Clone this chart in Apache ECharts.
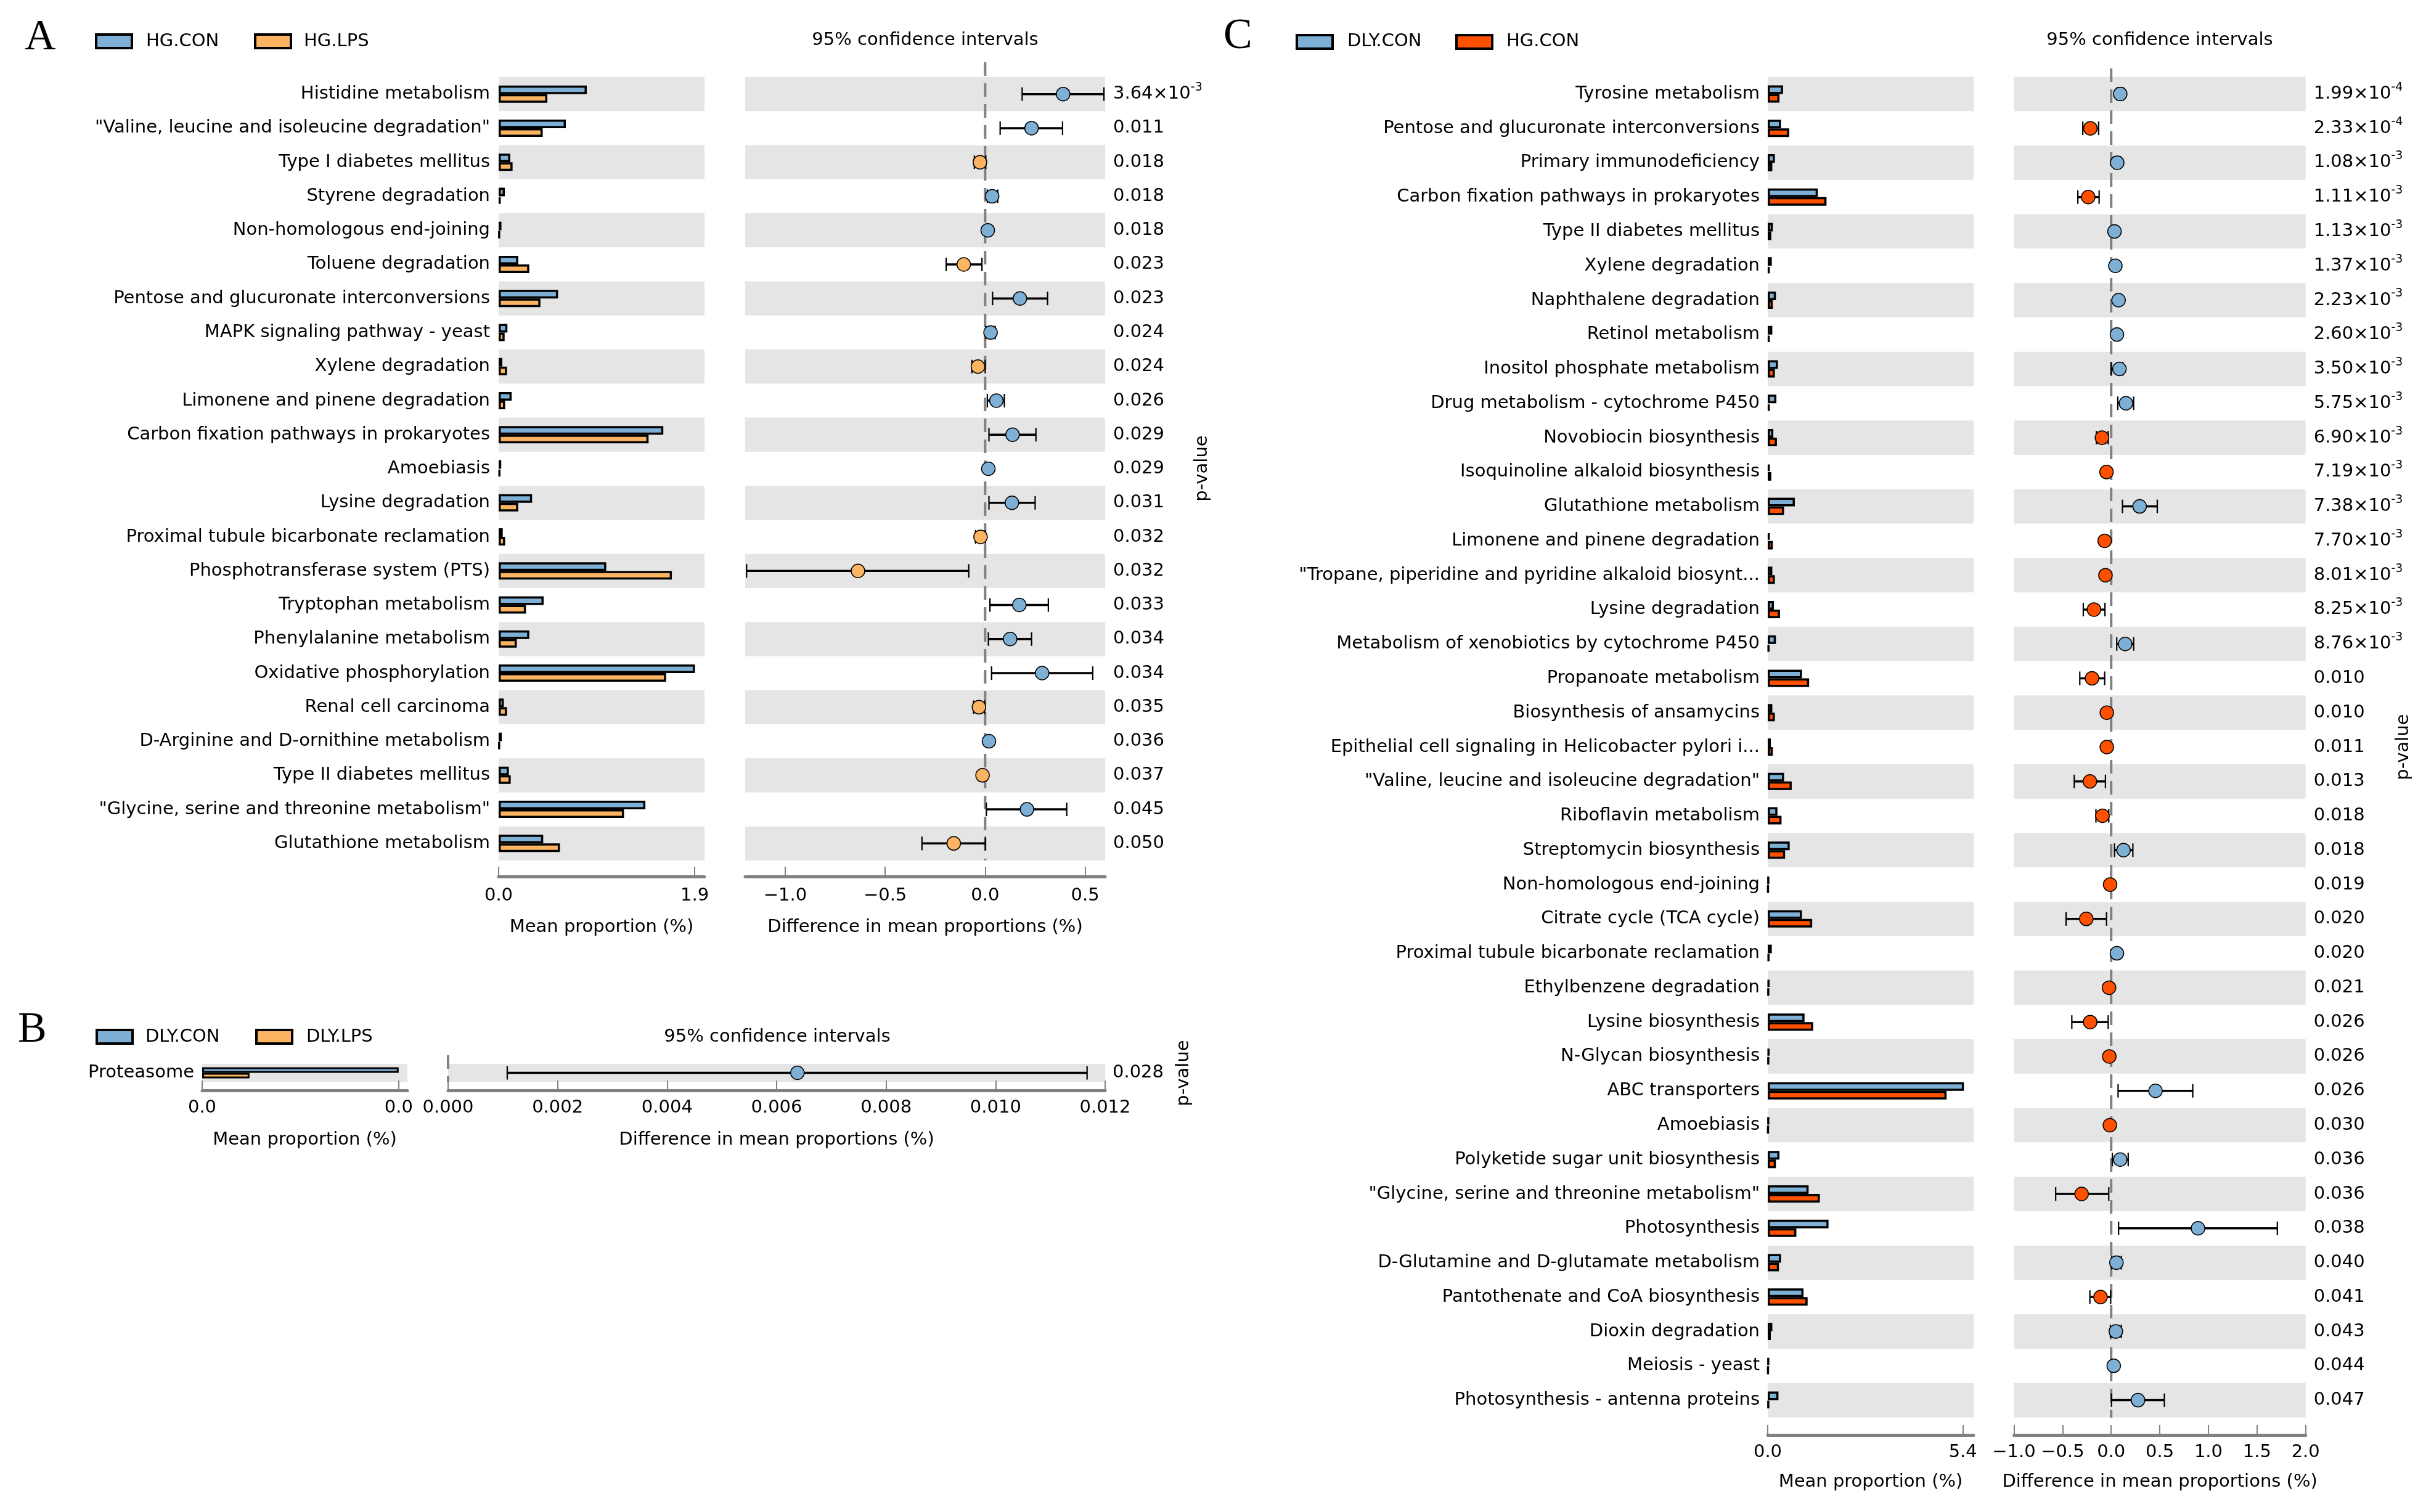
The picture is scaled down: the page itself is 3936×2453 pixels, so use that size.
<!DOCTYPE html>
<html>
<head>
<meta charset="utf-8">
<script src="https://cdn.jsdelivr.net/npm/echarts@6/dist/echarts.min.js"></script>
<style>html,body{margin:0;padding:0;background:#fff}#chart{width:3936px;height:2453px}</style>
</head>
<body>
<div id="chart"></div>
<script>
// ---------------- DATA ----------------
// Panel A: HG.CON vs HG.LPS
const aCategories = ["Histidine metabolism", "\"Valine, leucine and isoleucine degradation\"", "Type I diabetes mellitus", "Styrene degradation", "Non-homologous end-joining", "Toluene degradation", "Pentose and glucuronate interconversions", "MAPK signaling pathway - yeast", "Xylene degradation", "Limonene and pinene degradation", "Carbon fixation pathways in prokaryotes", "Amoebiasis", "Lysine degradation", "Proximal tubule bicarbonate reclamation", "Phosphotransferase system (PTS)", "Tryptophan metabolism", "Phenylalanine metabolism", "Oxidative phosphorylation", "Renal cell carcinoma", "D-Arginine and D-ornithine metabolism", "Type II diabetes mellitus", "\"Glycine, serine and threonine metabolism\"", "Glutathione metabolism"];
const aCon  = [0.854, 0.651, 0.113, 0.060, 0.027, 0.190, 0.576, 0.085, 0.036, 0.126, 1.596, 0.025, 0.324, 0.040, 1.043, 0.436, 0.297, 1.902, 0.050, 0.030, 0.099, 1.422, 0.432];
const aLps  = [0.472, 0.427, 0.135, 0.020, 0.010, 0.297, 0.405, 0.058, 0.081, 0.063, 1.453, 0.015, 0.190, 0.063, 1.679, 0.265, 0.176, 1.623, 0.081, 0.010, 0.117, 1.215, 0.594];
const aDiff = [0.390, 0.232, -0.026, 0.035, 0.013, -0.107, 0.174, 0.027, -0.036, 0.056, 0.137, 0.016, 0.134, -0.023, -0.636, 0.171, 0.125, 0.285, -0.031, 0.019, -0.013, 0.209, -0.157];
const aLow  = [0.185, 0.075, -0.054, 0.011, 0.008, -0.195, 0.037, 0.003, -0.066, 0.011, 0.019, 0.010, 0.019, -0.048, -1.193, 0.024, 0.016, 0.032, -0.058, 0.012, -0.020, 0.006, -0.316];
const aHigh = [0.594, 0.387, 0.003, 0.063, 0.018, -0.016, 0.312, 0.050, 0.000, 0.096, 0.254, 0.022, 0.250, 0.001, -0.082, 0.316, 0.232, 0.538, -0.003, 0.026, -0.005, 0.408, 0.001];
const aPValues = ["3.64e-3", "0.011", "0.018", "0.018", "0.018", "0.023", "0.023", "0.024", "0.024", "0.026", "0.029", "0.029", "0.031", "0.032", "0.032", "0.033", "0.034", "0.034", "0.035", "0.036", "0.037", "0.045", "0.050"];
const aBarTicks = [0, 1.9];
const aCiTicks = [-1.0, -0.5, 0.0, 0.5];

// Panel B: DLY.CON vs DLY.LPS
const bCategories = ["Proteasome"];
const bCon  = [0.0083];
const bLps  = [0.0020];
const bDiff = [0.00638];
const bLow  = [0.00108];
const bHigh = [0.01167];
const bPValues = ["0.028"];
const bBarTicks = [0, 0.0083];
const bCiTicks = [0.000, 0.002, 0.004, 0.006, 0.008, 0.010, 0.012];

// Panel C: DLY.CON vs HG.CON
const cCategories = ["Tyrosine metabolism", "Pentose and glucuronate interconversions", "Primary immunodeficiency", "Carbon fixation pathways in prokaryotes", "Type II diabetes mellitus", "Xylene degradation", "Naphthalene degradation", "Retinol metabolism", "Inositol phosphate metabolism", "Drug metabolism - cytochrome P450", "Novobiocin biosynthesis", "Isoquinoline alkaloid biosynthesis", "Glutathione metabolism", "Limonene and pinene degradation", "\"Tropane, piperidine and pyridine alkaloid biosynt...", "Lysine degradation", "Metabolism of xenobiotics by cytochrome P450", "Propanoate metabolism", "Biosynthesis of ansamycins", "Epithelial cell signaling in Helicobacter pylori i...", "\"Valine, leucine and isoleucine degradation\"", "Riboflavin metabolism", "Streptomycin biosynthesis", "Non-homologous end-joining", "Citrate cycle (TCA cycle)", "Proximal tubule bicarbonate reclamation", "Ethylbenzene degradation", "Lysine biosynthesis", "N-Glycan biosynthesis", "ABC transporters", "Amoebiasis", "Polyketide sugar unit biosynthesis", "\"Glycine, serine and threonine metabolism\"", "Photosynthesis", "D-Glutamine and D-glutamate metabolism", "Pantothenate and CoA biosynthesis", "Dioxin degradation", "Meiosis - yeast", "Photosynthesis - antenna proteins"];
const cDly  = [0.424, 0.368, 0.198, 1.385, 0.141, 0.113, 0.226, 0.127, 0.283, 0.240, 0.155, 0.057, 0.749, 0.057, 0.127, 0.170, 0.226, 0.947, 0.127, 0.085, 0.452, 0.269, 0.608, 0.030, 0.947, 0.113, 0.042, 1.018, 0.042, 5.428, 0.030, 0.325, 1.131, 1.682, 0.368, 0.990, 0.127, 0.030, 0.297];
const cHg   = [0.325, 0.594, 0.127, 1.626, 0.099, 0.057, 0.141, 0.057, 0.198, 0.057, 0.254, 0.099, 0.452, 0.141, 0.198, 0.339, 0.042, 1.145, 0.198, 0.141, 0.664, 0.382, 0.481, 0.015, 1.230, 0.042, 0.030, 1.258, 0.030, 4.948, 0.015, 0.226, 1.442, 0.792, 0.311, 1.103, 0.085, 0.015, 0.030];
const cDiff = [0.093, -0.214, 0.062, -0.236, 0.034, 0.043, 0.076, 0.059, 0.085, 0.152, -0.095, -0.048, 0.293, -0.067, -0.059, -0.177, 0.144, -0.197, -0.045, -0.045, -0.219, -0.090, 0.127, -0.011, -0.256, 0.059, -0.022, -0.216, -0.019, 0.456, -0.014, 0.093, -0.304, 0.893, 0.054, -0.110, 0.048, 0.026, 0.276];
const cLow  = [0.060, -0.292, 0.030, -0.343, 0.020, 0.025, 0.050, 0.040, 0.000, 0.068, -0.152, -0.060, 0.116, -0.080, -0.075, -0.287, 0.057, -0.323, -0.060, -0.060, -0.380, -0.157, 0.034, -0.020, -0.464, 0.040, -0.030, -0.405, -0.030, 0.071, -0.020, 0.012, -0.571, 0.076, 0.006, -0.219, -0.008, 0.015, 0.003];
const cHigh = [0.125, -0.129, 0.090, -0.124, 0.050, 0.060, 0.100, 0.080, 0.120, 0.231, -0.031, -0.035, 0.474, -0.055, -0.045, -0.064, 0.231, -0.067, -0.030, -0.030, -0.059, -0.025, 0.223, -0.003, -0.048, 0.075, -0.015, -0.031, -0.010, 0.839, -0.008, 0.175, -0.025, 1.709, 0.104, -0.005, 0.104, 0.035, 0.547];
const cPValues = ["1.99e-4", "2.33e-4", "1.08e-3", "1.11e-3", "1.13e-3", "1.37e-3", "2.23e-3", "2.60e-3", "3.50e-3", "5.75e-3", "6.90e-3", "7.19e-3", "7.38e-3", "7.70e-3", "8.01e-3", "8.25e-3", "8.76e-3", "0.010", "0.010", "0.011", "0.013", "0.018", "0.018", "0.019", "0.020", "0.020", "0.021", "0.026", "0.026", "0.026", "0.030", "0.036", "0.036", "0.038", "0.040", "0.041", "0.043", "0.044", "0.047"];
const cBarTicks = [0, 5.4];
const cCiTicks = [-1.0, -0.5, 0.0, 0.5, 1.0, 1.5, 2.0];

// ---------------- STYLE / LAYOUT ----------------
const FONT = 'DejaVu Sans';
const FS = 29;
const BLUE = '#7eb0d5', ORANGE = '#fdb462', RED = '#ff5000', BAND = '#e5e5e5', AXIS = '#808080';

const panels = [
  { key: 'A', cats: aCategories, s1: aCon, s2: aLps, n1: 'HG.CON', n2: 'HG.LPS', c1: BLUE, c2: ORANGE,
    diff: aDiff, low: aLow, high: aHigh, pv: aPValues, barTicks: aBarTicks, ciTicks: aCiTicks,
    barMax: 1.995, ciMin: -1.2, ciMax: 0.6, barFmt: v => v.toFixed(1), ciFmt: v => (v < 0 ? '\u2212' : '') + Math.abs(v).toFixed(1),
    top: 125, height: 1271, barL: 809, barW: 334, ciL: 1209, ciW: 584, offset: 26, labelMargin: 17, nameGap: 68,
    barWidth: 14, barBorder: 3.5, labelGap: 14, pMargin: 13 },
  { key: 'B', cats: bCategories, s1: bCon, s2: bLps, n1: 'DLY.CON', n2: 'DLY.LPS', c1: BLUE, c2: ORANGE,
    diff: bDiff, low: bLow, high: bHigh, pv: bPValues, barTicks: bBarTicks, ciTicks: bCiTicks,
    barMax: 0.00867, ciMin: 0, ciMax: 0.012, barFmt: v => v.toFixed(1), ciFmt: v => v.toFixed(3),
    top: 1726, height: 29, barL: 328, barW: 333, ciL: 727, ciW: 1066, offset: 14, labelMargin: 14, nameGap: 66,
    barWidth: 9, barBorder: 3, labelGap: 13, pMargin: 12 },
  { key: 'C', cats: cCategories, s1: cDly, s2: cHg, n1: 'DLY.CON', n2: 'HG.CON', c1: BLUE, c2: RED,
    diff: cDiff, low: cLow, high: cHigh, pv: cPValues, barTicks: cBarTicks, ciTicks: cCiTicks,
    barMax: 5.695, ciMin: -1, ciMax: 2, barFmt: v => v.toFixed(1), ciFmt: v => (v < 0 ? '\u2212' : '') + Math.abs(v).toFixed(1),
    top: 124.5, height: 2175, barL: 2868, barW: 334, ciL: 3267.5, ciW: 473.2, offset: 28.5, labelMargin: 14, nameGap: 62,
    barWidth: 14, barBorder: 3.5, labelGap: 13, pMargin: 13 }
];

function fmtP(v) {
  if (v.indexOf('e') < 0) return v;
  const parts = v.split('e');
  return parts[0] + '\u00d710{sup|' + parts[1] + '}';
}

function errorBars(params, api) {
  const y = api.value(2);
  const p1 = api.coord([api.value(0), y]);
  const p2 = api.coord([api.value(1), y]);
  const cap = 11;
  return {
    type: 'group',
    children: [
      { type: 'line', shape: { x1: p1[0], y1: p1[1], x2: p2[0], y2: p2[1] }, style: { stroke: '#000', lineWidth: 3.5 } },
      { type: 'line', shape: { x1: p1[0], y1: p1[1] - cap, x2: p1[0], y2: p1[1] + cap }, style: { stroke: '#000', lineWidth: 2.2 } },
      { type: 'line', shape: { x1: p2[0], y1: p2[1] - cap, x2: p2[0], y2: p2[1] + cap }, style: { stroke: '#000', lineWidth: 2.2 } }
    ]
  };
}

const grids = [], xAxes = [], yAxes = [], series = [];
const txt = { fontSize: FS, fontFamily: FONT, color: '#000' };

panels.forEach((p, k) => {
  const gBar = grids.length, gCi = gBar + 1;
  grids.push({ left: p.barL, top: p.top, width: p.barW, height: p.height, containLabel: false });
  grids.push({ left: p.ciL, top: p.top, width: p.ciW, height: p.height, containLabel: false });

  const axisCommon = {
    type: 'value', offset: p.offset,
    axisLine: { show: true, lineStyle: { color: AXIS, width: 5 } },
    splitLine: { show: false },
    nameLocation: 'middle', nameGap: p.nameGap, nameTextStyle: Object.assign({}, txt)
  };
  xAxes.push(Object.assign({}, axisCommon, {
    gridIndex: gBar, min: 0, max: p.barMax, name: 'Mean proportion (%)',
    axisTick: { show: true, inside: true, length: 16, lineStyle: { color: AXIS, width: 2 }, customValues: p.barTicks },
    axisLabel: Object.assign({ customValues: p.barTicks, formatter: p.barFmt, margin: p.labelMargin }, txt)
  }));
  xAxes.push(Object.assign({}, axisCommon, {
    gridIndex: gCi, min: p.ciMin, max: p.ciMax, name: 'Difference in mean proportions (%)',
    axisTick: { show: true, inside: true, length: 16, lineStyle: { color: AXIS, width: 2 }, customValues: p.ciTicks },
    axisLabel: Object.assign({ customValues: p.ciTicks, formatter: p.ciFmt, margin: p.labelMargin }, txt)
  }));

  const yBar = yAxes.length, yCi = yBar + 1, yP = yBar + 2;
  const catBase = {
    type: 'category', inverse: true,
    axisLine: { show: false }, axisTick: { show: false }, splitLine: { show: false },
    splitArea: { show: true, interval: 0, areaStyle: { color: [BAND, 'rgba(255,255,255,0)'] } }
  };
  yAxes.push(Object.assign({}, catBase, {
    gridIndex: gBar, data: p.cats,
    axisLabel: Object.assign({ show: true, interval: 0, margin: p.labelGap }, txt)
  }));
  yAxes.push(Object.assign({}, catBase, { gridIndex: gCi, data: p.cats, axisLabel: { show: false } }));
  yAxes.push({
    type: 'category', gridIndex: gCi, position: 'right', inverse: true, data: p.pv,
    axisLine: { show: false }, axisTick: { show: false }, splitLine: { show: false }, splitArea: { show: false },
    axisLabel: Object.assign({
      show: true, interval: 0, margin: p.pMargin, align: 'left', lineHeight: 40, formatter: fmtP,
      rich: { sup: { fontSize: 19, fontFamily: FONT, color: '#000', verticalAlign: 'top' } }
    }, txt)
  });

  const barStyle = (c) => ({ color: c, borderColor: '#000', borderWidth: p.barBorder });
  series.push({ type: 'bar', name: p.n1, xAxisIndex: gBar, yAxisIndex: yBar, data: p.s1, barWidth: p.barWidth, barGap: '0%', itemStyle: barStyle(p.c1), silent: true });
  series.push({ type: 'bar', name: p.n2, xAxisIndex: gBar, yAxisIndex: yBar, data: p.s2, barWidth: p.barWidth, barGap: '0%', itemStyle: barStyle(p.c2), silent: true });
  series.push({
    type: 'custom', name: p.key + ' CI', xAxisIndex: gCi, yAxisIndex: yCi,
    data: p.low.map((l, i) => [l, p.high[i], i]), encode: { x: [0, 1], y: 2 },
    renderItem: errorBars, z: 3, silent: true
  });
  series.push({
    type: 'scatter', name: p.key + ' diff', xAxisIndex: gCi, yAxisIndex: yCi,
    data: p.diff.map((d, i) => [d, i]), symbolSize: 22, z: 4, silent: true,
    itemStyle: { color: (prm) => prm.value[0] > 0 ? p.c1 : p.c2, borderColor: '#000', borderWidth: 1.5, opacity: 1 }
  });
});

const option = {
  animation: false,
  backgroundColor: '#fff',
  grid: grids, xAxis: xAxes, yAxis: yAxes, series: series
};

const chart = echarts.init(document.getElementById('chart'), null, { renderer: 'canvas', width: 3936, height: 2453 });
chart.setOption(option);

// ---------------- ANNOTATIONS ----------------
function text(str, x, y, opts) {
  return Object.assign({ type: 'text', x: x, y: y, z: 10, silent: true,
    style: Object.assign({ text: str, fontSize: FS, fontFamily: FONT, fill: '#000', align: 'left', verticalAlign: 'middle' }, (opts && opts.style) || {}) },
    opts && opts.rotation ? { rotation: opts.rotation } : {});
}
function swatch(x, y, color) {
  return { type: 'rect', z: 10, silent: true, shape: { x: x, y: y, width: 58, height: 22 }, style: { fill: color, stroke: '#000', lineWidth: 4 } };
}
const serif = { fontFamily: 'Liberation Serif', fontSize: 70 };
const g = [
  text('A', 40, 62, { style: serif }),
  text('B', 29, 1672, { style: serif }),
  text('C', 1985, 60, { style: serif }),
  swatch(156, 56, BLUE), text('HG.CON', 237, 67),
  swatch(414, 56, ORANGE), text('HG.LPS', 493, 67),
  swatch(157, 1671, BLUE), text('DLY.CON', 236, 1682),
  swatch(416, 1671, ORANGE), text('DLY.LPS', 497, 1682),
  swatch(2104, 57, BLUE), text('DLY.CON', 2186, 67.5),
  swatch(2363, 57, RED), text('HG.CON', 2444, 67.5),
  text('95% confidence intervals', 1501, 65, { style: { align: 'center' } }),
  text('95% confidence intervals', 1261, 1682, { style: { align: 'center' } }),
  text('95% confidence intervals', 3504, 65, { style: { align: 'center' } }),
  text('p-value', 1950, 760, { rotation: Math.PI / 2, style: { align: 'center' } }),
  text('p-value', 1920, 1741, { rotation: Math.PI / 2, style: { align: 'center' } }),
  text('p-value', 3899, 1212, { rotation: Math.PI / 2, style: { align: 'center' } })
];
// dashed zero reference lines, placed through the CI axes' own scale
[[1, 101, 1396], [3, 1712, 1755], [5, 111, 2300]].forEach(([xi, y1, y2]) => {
  const x = chart.convertToPixel({ xAxisIndex: xi }, 0);
  g.push({ type: 'line', z: 1, silent: true, shape: { x1: x, y1: y1, x2: x, y2: y2 }, style: { stroke: AXIS, lineWidth: 4, lineDash: [22, 12] } });
});
chart.setOption({ graphic: { elements: g } });
</script>
</body>
</html>
